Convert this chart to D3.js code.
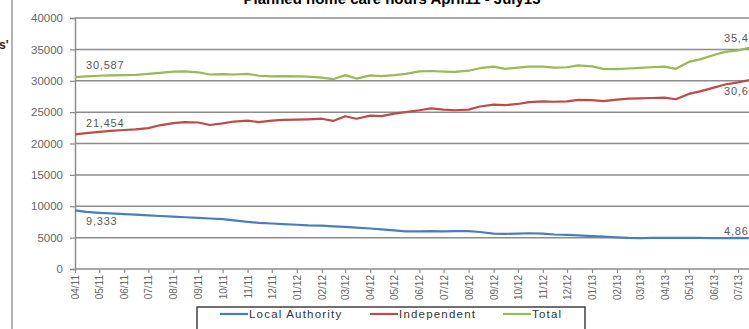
<!DOCTYPE html>
<html>
<head>
<meta charset="utf-8">
<script src="https://cdn.jsdelivr.net/npm/d3@7"></script>
<style>
  body { margin: 0; background: #fff; overflow: hidden; }
  svg { display: block; }
</style>
</head>
<body>
<script>
// half-monthly readings, April 2011 - July 2013
const periods = [
  "2011-04-01","2011-04-15","2011-05-01","2011-05-15","2011-06-01","2011-06-15",
  "2011-07-01","2011-07-15","2011-08-01","2011-08-15","2011-09-01","2011-09-15",
  "2011-10-01","2011-10-15","2011-11-01","2011-11-15","2011-12-01","2011-12-15",
  "2012-01-01","2012-01-15","2012-02-01","2012-02-15","2012-03-01","2012-03-15",
  "2012-04-01","2012-04-15","2012-05-01","2012-05-15","2012-06-01","2012-06-15",
  "2012-07-01","2012-07-15","2012-08-01","2012-08-15","2012-09-01","2012-09-15",
  "2012-10-01","2012-10-15","2012-11-01","2012-11-15","2012-12-01","2012-12-15",
  "2013-01-01","2013-01-15","2013-02-01","2013-02-15","2013-03-01","2013-03-15",
  "2013-04-01","2013-04-15","2013-05-01","2013-05-15","2013-06-01","2013-06-15",
  "2013-07-01","2013-07-15","2013-08-01"
];

const localAuthority = [
  9333, 9100, 8950, 8850, 8750, 8650, 8550, 8450, 8350, 8250, 8150, 8050,
  7950, 7750, 7500, 7350, 7250, 7150, 7050, 6950, 6900, 6800, 6700, 6600,
  6450, 6300, 6150, 6000, 6000, 6050, 6000, 6050, 6050, 5900, 5650, 5600,
  5650, 5700, 5650, 5500, 5450, 5350, 5250, 5150, 5050, 4950, 4900, 4950,
  4950, 4950, 4950, 4950, 4900, 4900, 4950, 4900, 4862
];

const independent = [
  21454, 21650, 21850, 22000, 22150, 22250, 22450, 22900, 23250, 23400, 23350, 22950,
  23200, 23500, 23650, 23400, 23650, 23750, 23800, 23850, 23950, 23600, 24350, 23950,
  24450, 24350, 24750, 25000, 25300, 25600, 25400, 25300, 25400, 25900, 26200, 26100,
  26300, 26600, 26700, 26650, 26700, 26950, 26900, 26750, 27000, 27150, 27200, 27250,
  27300, 27050, 27900, 28300, 28900, 29400, 29750, 30100, 30604
];

const total = [
  30587, 30700, 30800, 30850, 30900, 30950, 31100, 31250, 31450, 31500, 31350, 31000,
  31050, 31000, 31100, 30800, 30700, 30750, 30700, 30650, 30500, 30250, 30900, 30350,
  30850, 30750, 30900, 31100, 31500, 31550, 31450, 31400, 31600, 32000, 32250, 31900,
  32100, 32250, 32250, 32100, 32150, 32450, 32300, 31900, 31850, 31950, 32050, 32150,
  32250, 31900, 33000, 33400, 34100, 34600, 34850, 35250, 35466
];

const seriesNames = ["Local Authority", "Independent", "Total"];
const seriesColors = ["#4a7ebb", "#be4b48", "#98b954"];
const yTicks = [0, 5000, 10000, 15000, 20000, 25000, 30000, 35000, 40000];

const width = 749;
const height = 329;

const svg = d3.select("body").append("svg")
  .attr("width", width).attr("height", height);

const parse = d3.timeParse("%Y-%m-%d");
const dates = periods.map(parse);

const x = d3.scaleTime()
  .domain([parse("2011-04-01"), parse("2013-07-01")])
  .range([75, 738]);
const y = d3.scaleLinear().domain([0, 40000]).range([269, 18]);

// title, cut off by the top of the frame
svg.append("text")
  .attr("x", 392).attr("y", 4)
  .attr("text-anchor", "middle")
  .attr("font-family", "Liberation Sans, Arial, sans-serif")
  .attr("font-size", 15).attr("font-weight", "bold")
  .attr("fill", "#000")
  .text("Planned home care hours April11 - July13");

// left frame bit and stray text
svg.append("line")
  .attr("x1", 12).attr("x2", 12).attr("y1", 0).attr("y2", height)
  .attr("stroke", "#9a9a9a").attr("stroke-width", 1.5);
svg.append("text")
  .attr("x", -1).attr("y", 49)
  .attr("font-family", "Liberation Sans, Arial, sans-serif")
  .attr("font-size", 12).attr("font-weight", "bold")
  .attr("fill", "#222")
  .text("s'");

// gridlines
svg.append("g").selectAll("line")
  .data(yTicks.slice(1))
  .join("line")
  .attr("x1", 75).attr("x2", width)
  .attr("y1", d => y(d)).attr("y2", d => y(d))
  .attr("stroke", "#8c8c8c").attr("stroke-width", 1.5);

// y axis
const yAxis = svg.append("g")
  .attr("transform", "translate(75,0)")
  .call(d3.axisLeft(y).tickValues(yTicks).tickFormat(d3.format("d")).tickSize(5).tickPadding(7));
yAxis.select(".domain").attr("stroke", "#8c8c8c").attr("stroke-width", 1.5);
yAxis.selectAll(".tick line").attr("stroke", "#8c8c8c").attr("stroke-width", 1.2);
yAxis.selectAll("text")
  .attr("font-family", "Liberation Sans, Arial, sans-serif")
  .attr("font-size", 11.5).attr("fill", "#666");

// x axis
const xAxis = svg.append("g")
  .attr("transform", "translate(0,269)")
  .call(d3.axisBottom(x).ticks(d3.timeMonth.every(1)).tickFormat(d3.timeFormat("%m/%y")).tickSize(4));
xAxis.select(".domain").remove();
xAxis.append("line")
  .attr("x1", 75).attr("x2", width).attr("y1", 0).attr("y2", 0)
  .attr("stroke", "#8c8c8c").attr("stroke-width", 1.5);
xAxis.selectAll(".tick line").attr("stroke", "#8c8c8c").attr("stroke-width", 1.2);
xAxis.selectAll(".tick text")
  .attr("transform", "rotate(-90)")
  .attr("text-anchor", "end")
  .attr("x", -6).attr("y", 0).attr("dy", "0.35em")
  .attr("font-family", "Liberation Sans, Arial, sans-serif")
  .attr("font-size", 10).attr("fill", "#666");

// lines
const allSeries = [localAuthority, independent, total];
const line = d3.line()
  .x((d, i) => x(dates[i]))
  .y(d => y(d));

svg.append("g").selectAll("path")
  .data(allSeries)
  .join("path")
  .attr("d", d => line(d))
  .attr("fill", "none")
  .attr("stroke", (d, i) => seriesColors[i])
  .attr("stroke-width", 2.2)
  .attr("stroke-linejoin", "round");

// data labels at start and end
const fmt = d3.format(",");
const labelStyle = sel => sel
  .attr("font-family", "Liberation Sans, Arial, sans-serif")
  .attr("font-size", 11).attr("letter-spacing", 0.8).attr("fill", "#595959");

const startOffsets = [15, -7, -8];
const endOffsets = [-3, 18, -4];
allSeries.forEach((s, i) => {
  svg.append("text")
    .attr("x", x(dates[0]) + 11)
    .attr("y", y(s[0]) + startOffsets[i])
    .call(labelStyle)
    .text(fmt(s[0]));
  svg.append("text")
    .attr("x", 724)
    .attr("y", y(s[s.length - 1]) + endOffsets[i])
    .call(labelStyle)
    .text(fmt(s[s.length - 1]));
});

// legend
const legend = svg.append("g").attr("transform", "translate(197,307)");
legend.append("rect")
  .attr("width", 388).attr("height", 30)
  .attr("fill", "#fff").attr("stroke", "#404040").attr("stroke-width", 1.5);
const legendX = [23, 173, 306];
seriesNames.forEach((name, i) => {
  const g = legend.append("g").attr("transform", `translate(${legendX[i]},7)`);
  g.append("line")
    .attr("x1", 0).attr("x2", 28).attr("y1", 0).attr("y2", 0)
    .attr("stroke", seriesColors[i]).attr("stroke-width", 2.2);
  g.append("text")
    .attr("x", 29).attr("y", 0).attr("dy", "0.35em")
    .attr("font-family", "Liberation Sans, Arial, sans-serif")
    .attr("font-size", 11.5).attr("letter-spacing", 1.2).attr("fill", "#333")
    .text(name);
});
</script>
</body>
</html>
